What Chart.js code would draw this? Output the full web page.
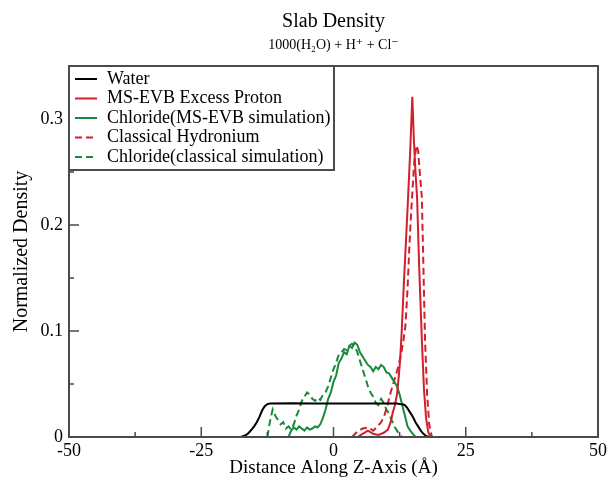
<!DOCTYPE html>
<html>
<head>
<meta charset="utf-8">
<script src="https://cdn.jsdelivr.net/npm/chart.js@4"></script>
<style>
  html, body { margin: 0; padding: 0; background: #fff; }
</style>
</head>
<body>
<canvas id="slabChart" width="610" height="484"></canvas>
<script>
// values
const waterX = [-17.5, -17, -16.5, -16, -15.5, -15, -14.5, -14, -13.5, -13, -12.5, -12, -8, -4, 0, 4, 8, 12, 12.5, 13, 13.5, 14, 14.5, 15, 15.5, 16, 16.5, 17, 17.5, 18];
const waterY = [0, 0.001, 0.002, 0.004, 0.007, 0.010, 0.014, 0.019, 0.025, 0.029, 0.031, 0.0315, 0.0318, 0.0316, 0.0315, 0.0317, 0.0316, 0.0315, 0.0312, 0.031, 0.030, 0.027, 0.023, 0.019, 0.014, 0.010, 0.006, 0.003, 0.001, 0];

const protonX = [4.5, 5.5, 6.5, 7.5, 8.5, 9.5, 10.3, 10.8, 11.2, 11.6, 12, 12.3, 12.6, 12.9, 13.3, 13.7, 14.1, 14.5, 14.9, 15.2, 15.5, 15.8, 16.2, 16.7, 17.1, 17.5, 17.9, 18.3];
const protonY = [0, 0.003, 0.006, 0.003, 0.002, 0.004, 0.007, 0.014, 0.023, 0.030, 0.040, 0.055, 0.073, 0.100, 0.145, 0.185, 0.226, 0.270, 0.321, 0.280, 0.250, 0.226, 0.160, 0.092, 0.045, 0.018, 0.005, 0];

const chlorideX = [-8.5, -8, -7.5, -7, -6.5, -6, -5.5, -5, -4.5, -4, -3.5, -3, -2.5, -2, -1.5, -1, -0.5, 0, 0.5, 1, 1.5, 2, 2.5, 3, 3.5, 4, 4.5, 5, 5.5, 6, 6.5, 7, 7.5, 8, 8.5, 9, 9.5, 10, 10.5, 11, 11.5, 12, 12.5, 13, 13.5, 14, 14.5, 15, 15.5];
const chlorideY = [0, 0.006, 0.009, 0.007, 0.010, 0.008, 0.006, 0.009, 0.007, 0.008, 0.010, 0.009, 0.012, 0.018, 0.026, 0.036, 0.042, 0.052, 0.058, 0.070, 0.074, 0.080, 0.078, 0.086, 0.084, 0.089, 0.087, 0.080, 0.076, 0.072, 0.068, 0.066, 0.062, 0.066, 0.064, 0.068, 0.066, 0.061, 0.060, 0.056, 0.052, 0.048, 0.040, 0.030, 0.020, 0.010, 0.006, 0.003, 0];

const hydroniumX = [3.5, 4.5, 5.5, 6.5, 7.5, 8.3, 9.0, 9.6, 10.2, 10.8, 11.4, 12.0, 12.6, 13.2, 13.6, 14.0, 14.3, 14.6, 14.9, 15.3, 15.7, 16.0, 16.3, 16.7, 17.0, 17.3, 17.7, 18.1, 18.6];
const hydroniumY = [0, 0.005, 0.008, 0.009, 0.006, 0.010, 0.014, 0.020, 0.030, 0.042, 0.052, 0.062, 0.074, 0.090, 0.105, 0.140, 0.175, 0.205, 0.230, 0.262, 0.275, 0.270, 0.250, 0.226, 0.160, 0.092, 0.040, 0.012, 0];

const chlorideClX = [-12.5, -12, -11.5, -11, -10.5, -10, -9.5, -9, -8.5, -8, -7.5, -7, -6.5, -6, -5.5, -5, -4.5, -4, -3.5, -3, -2.5, -2, -1.5, -1, -0.5, 0, 0.5, 1, 1.5, 2, 2.5, 3, 3.5, 4, 4.5, 5, 5.5, 6, 6.5, 7, 7.5, 8, 8.5, 9, 9.5, 10, 10.5, 11, 11.5, 12, 12.5, 13];
const chlorideClY = [0, 0.015, 0.026, 0.020, 0.016, 0.012, 0.014, 0.008, 0.010, 0.007, 0.012, 0.020, 0.026, 0.034, 0.038, 0.042, 0.040, 0.036, 0.034, 0.037, 0.035, 0.040, 0.042, 0.048, 0.056, 0.064, 0.070, 0.078, 0.080, 0.083, 0.082, 0.086, 0.088, 0.086, 0.080, 0.072, 0.064, 0.056, 0.048, 0.042, 0.038, 0.032, 0.030, 0.036, 0.032, 0.026, 0.022, 0.016, 0.010, 0.006, 0.002, 0];

const seriesLabels = ["Water", "MS-EVB Excess Proton", "Chloride(MS-EVB simulation)", "Classical Hydronium", "Chloride(classical simulation)"];

const RED = "#d21f2b";
const GREEN = "#178a3c";
const serif = "'Liberation Serif', 'Times New Roman', 'DejaVu Serif', serif";

function toPoints(xs, ys) {
  return xs.map((x, i) => ({ x: x, y: ys[i] }));
}

function line(label, xs, ys, color, dash) {
  return {
    label: label,
    data: toPoints(xs, ys),
    borderColor: color,
    backgroundColor: color,
    borderWidth: 2,
    borderDash: dash,
    pointRadius: 0,
    tension: 0,
    fill: false
  };
}

// inward ticks, box frame and the boxed legend
const frameTicks = {
  id: "frameTicks",
  afterDraw(chart) {
    const { ctx, chartArea: a, scales: { x, y } } = chart;
    ctx.save();
    ctx.strokeStyle = "#4a4a4a";
    ctx.lineWidth = 1.5;
    ctx.beginPath();
    x.ticks.forEach(t => {
      const px = x.getPixelForValue(t.value);
      const len = Math.round(t.value * 4) % 100 === 0 ? 10 : 5;
      ctx.moveTo(px, a.bottom);
      ctx.lineTo(px, a.bottom - len);
    });
    y.ticks.forEach(t => {
      const py = y.getPixelForValue(t.value);
      const len = Math.round(t.value * 20) % 2 === 0 ? 10 : 5;
      ctx.moveTo(a.left, py);
      ctx.lineTo(a.left + len, py);
    });
    ctx.stroke();
    ctx.lineWidth = 2;
    ctx.strokeRect(a.left, a.top, a.right - a.left, a.bottom - a.top);

    // legend
    const boxW = 265, boxH = 104;
    ctx.fillStyle = "#fff";
    ctx.fillRect(a.left, a.top, boxW, boxH);
    ctx.strokeRect(a.left, a.top, boxW, boxH);
    ctx.font = "18px " + serif;
    ctx.textBaseline = "middle";
    chart.data.datasets.forEach((ds, i) => {
      const yy = a.top + 13 + i * 19.5;
      ctx.strokeStyle = ds.borderColor;
      ctx.lineWidth = 2;
      ctx.setLineDash(ds.borderDash || []);
      ctx.beginPath();
      ctx.moveTo(a.left + 6, yy);
      ctx.lineTo(a.left + 28, yy);
      ctx.stroke();
      ctx.setLineDash([]);
      ctx.fillStyle = "#000";
      ctx.fillText(ds.label, a.left + 38, yy);
    });
    ctx.restore();
  }
};

new Chart(document.getElementById("slabChart"), {
  type: "line",
  data: {
    datasets: [
      line(seriesLabels[0], waterX, waterY, "#000", []),
      line(seriesLabels[1], protonX, protonY, RED, []),
      line(seriesLabels[2], chlorideX, chlorideY, GREEN, []),
      line(seriesLabels[3], hydroniumX, hydroniumY, RED, [7, 4]),
      line(seriesLabels[4], chlorideClX, chlorideClY, GREEN, [7, 4])
    ]
  },
  options: {
    responsive: false,
    animation: false,
    layout: { padding: { left: 0, right: 12, top: 0, bottom: 0 } },
    plugins: {
      legend: { display: false },
      tooltip: { enabled: false },
      title: {
        display: true,
        text: "Slab Density",
        fullSize: false,
        color: "#000",
        font: { family: serif, size: 20, weight: "normal" },
        padding: { top: 10, bottom: 2 }
      },
      subtitle: {
        display: true,
        text: "1000(H\u2082O) + H\u207A + Cl\u207B",
        fullSize: false,
        color: "#000",
        font: { family: serif, size: 14, weight: "normal" },
        padding: { top: 1, bottom: 12.2 }
      }
    },
    scales: {
      x: {
        type: "linear",
        min: -50,
        max: 50,
        afterFit: s => { s.height = 47; },
        grid: { display: false, drawTicks: false },
        border: { display: false },
        ticks: {
          stepSize: 12.5,
          autoSkip: false,
          maxRotation: 0,
          padding: 3,
          color: "#000",
          font: { family: serif, size: 18 },
          callback: v => (Math.round(v * 4) % 100 === 0 ? String(v) : "")
        },
        title: {
          display: true,
          text: "Distance Along Z-Axis (\u00C5)",
          color: "#000",
          font: { family: serif, size: 19 },
          padding: { top: 0, bottom: 5 }
        }
      },
      y: {
        type: "linear",
        min: 0,
        max: 0.35,
        afterFit: s => { s.width = 69; },
        grid: { display: false, drawTicks: false },
        border: { display: false },
        ticks: {
          stepSize: 0.05,
          autoSkip: false,
          padding: 6,
          color: "#000",
          font: { family: serif, size: 18 },
          callback: v => {
            const k = Math.round(v * 20);
            if (k % 2 !== 0) return "";
            return k === 0 ? "0" : (k / 20).toFixed(1);
          }
        },
        title: {
          display: true,
          text: "Normalized Density",
          color: "#000",
          font: { family: serif, size: 20 },
          padding: { top: 10, bottom: 0 }
        }
      }
    }
  },
  plugins: [frameTicks]
});
</script>
</body>
</html>
